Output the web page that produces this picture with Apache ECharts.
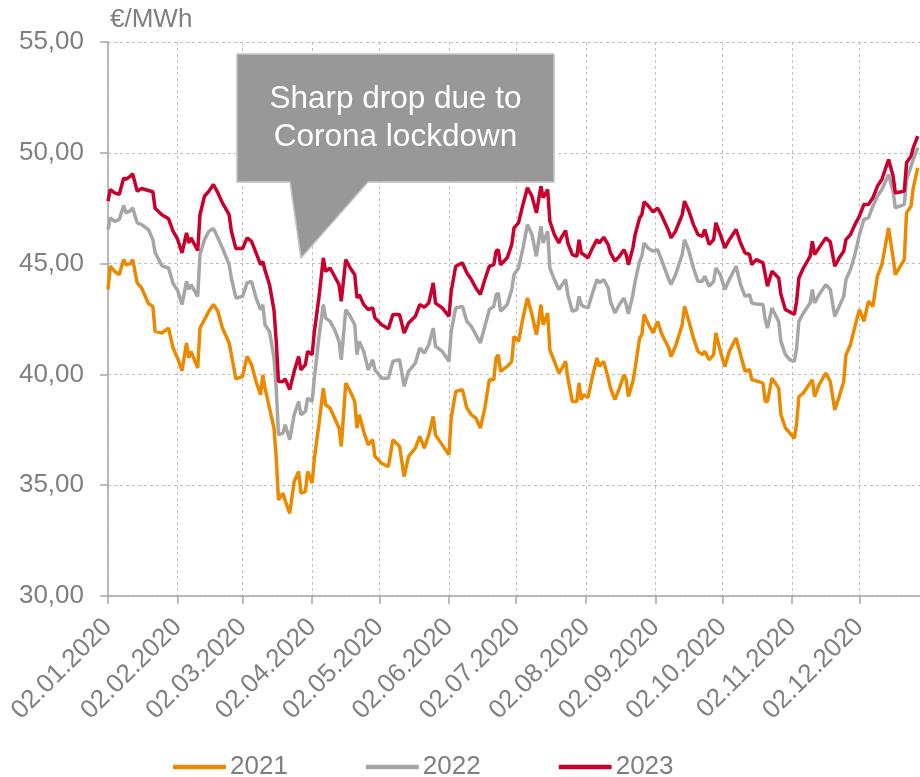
<!DOCTYPE html>
<html>
<head>
<meta charset="utf-8">
<script src="https://cdn.jsdelivr.net/npm/echarts@6/dist/echarts.min.js"></script>
<style>html,body{margin:0;padding:0;background:#fff;}#chart{width:920px;height:777px;}</style>
</head>
<body>
<div id="chart"></div>
<script>
// ---- data ----
const YEAR = '2020';
const firstDay = '2020-01-02';
const lastDay = '2020-12-29';
const seriesNames = ['2021', '2022', '2023'];
const yTicks = [30, 35, 40, 45, 50, 55];
const unitLabel = '€/MWh';
const calloutText = 'Sharp drop due to\nCorona lockdown';

const sampleDates = [
 '02.01','03.01','05.01','07.01','09.01','10.01','12.01','13.01','15.01','17.01',
 '20.01','22.01','23.01','26.01','29.01','31.01','02.02','04.02','06.02','07.02',
 '08.02','11.02','12.02','14.02','16.02','18.02','20.02','22.02','25.02','26.02',
 '28.02','02.03','04.03','06.03','08.03','10.03','11.03','12.03','14.03','16.03',
 '17.03','18.03','20.03','21.03','23.03','25.03','27.03','28.03','30.03','31.03',
 '02.04','03.04','05.04','07.04','08.04','10.04','12.04','14.04','15.04','17.04',
 '19.04','21.04','22.04','23.04','25.04','27.04','29.04','30.04','03.05','06.05',
 '08.05','11.05','13.05','15.05','18.05','20.05','22.05','24.05','26.05','27.05',
 '30.05','02.06','03.06','05.06','08.06','10.06','12.06','14.06','16.06','18.06',
 '20.06','22.06','23.06','24.06','25.06','28.06','30.06','01.07','03.07','05.07',
 '07.07','09.07','11.07','12.07','13.07','14.07','16.07','17.07','19.07','21.07',
 '22.07','24.07','25.07','27.07','29.07','30.07','31.07','01.08','03.08','05.08',
 '07.08','08.08','10.08','12.08','13.08','15.08','17.08','19.08','20.08','21.08',
 '23.08','24.08','26.08','27.08','28.08','30.08','01.09','03.09','05.09','08.09',
 '09.09','11.09','14.09','15.09','17.09','19.09','21.09','23.09','24.09','26.09',
 '28.09','29.09','01.10','03.10','05.10','08.10','10.10','12.10','14.10','15.10',
 '17.10','20.10','21.10','22.10','24.10','27.10','28.10','30.10','01.11','03.11',
 '04.11','05.11','07.11','10.11','11.11','12.11','14.11','17.11','19.11','21.11',
 '23.11','25.11','26.11','28.11','30.11','02.12','04.12','06.12','08.12','10.12',
 '12.12','15.12','17.12','18.12','22.12','23.12','25.12','26.12','28.12'
];

const values2023 = [
 47.82,48.34,48.19,48.12,48.87,48.8,48.95,49.05,48.27,48.39,
 48.3,48.24,47.5,47.2,47.02,46.46,46.1,45.48,46.39,45.93,
 46.16,45.59,47.2,48.04,48.27,48.57,48.19,47.74,47.21,46.46,
 45.68,45.68,46.16,46.0,45.48,44.95,45.1,44.7,44.05,42.9,
 41.5,39.68,39.68,39.8,39.31,40.14,40.81,40.21,40.44,41.04,
 40.89,41.94,43.45,45.26,44.65,44.8,44.43,44.05,43.3,45.18,
 44.8,44.5,43.45,43.6,43.15,42.92,43.0,42.55,42.24,42.06,
 42.7,42.7,41.87,42.32,42.62,43.15,43.03,43.22,44.13,43.22,
 43.0,42.62,43.75,44.88,45.03,44.58,44.28,43.9,43.6,44.28,
 44.88,44.95,45.56,45.63,44.95,45.26,45.86,46.61,46.84,47.67,
 48.42,48.04,47.29,47.89,48.49,47.97,48.34,46.91,46.31,45.93,
 46.16,46.49,45.93,45.41,45.33,46.08,45.48,45.41,45.26,45.71,
 46.08,45.93,46.19,45.86,45.48,45.11,45.33,45.63,45.41,44.95,
 45.71,46.31,47.06,47.21,47.79,47.59,47.33,47.51,47.14,46.46,
 46.16,46.46,47.21,47.82,47.36,46.76,46.31,46.23,46.54,45.86,
 46.08,46.84,46.31,45.71,46.08,46.54,45.93,45.48,45.41,44.95,
 45.18,45.03,44.5,43.98,44.65,44.35,43.6,42.92,42.82,42.7,
 43.3,44.35,44.8,45.33,46.01,45.41,45.71,46.16,45.98,44.88,
 45.26,45.56,46.08,46.31,46.76,47.14,47.67,47.67,47.97,48.49,
 48.8,49.7,48.95,48.19,48.27,49.55,49.85,50.23,50.75
];

const values2022 = [
 46.54,47.06,46.91,46.99,47.62,47.29,47.39,47.51,46.84,46.76,
 46.54,46.08,45.5,44.9,44.8,44.1,43.8,43.15,44.2,43.83,
 44.05,43.52,45.41,46.08,46.46,46.58,46.16,45.71,44.95,44.35,
 43.45,43.52,44.13,44.2,43.45,42.92,43.15,42.24,41.94,40.74,
 39.38,37.27,37.35,37.73,37.05,38.18,38.78,38.18,38.33,38.93,
 38.78,39.83,41.64,43.15,42.55,42.39,42.02,41.49,40.66,42.92,
 42.62,42.24,40.89,41.49,41.04,40.21,40.66,40.21,39.83,39.83,
 40.59,40.66,39.46,40.14,40.51,41.19,40.96,41.34,42.09,41.27,
 41.04,40.59,41.94,43.0,43.07,42.39,42.17,41.79,41.42,42.17,
 42.92,43.07,43.6,43.67,42.85,43.15,43.83,44.5,44.8,45.71,
 46.76,46.31,45.33,46.01,46.69,45.93,46.46,44.8,44.28,43.83,
 43.98,44.28,43.6,42.85,42.92,43.52,43.15,43.07,43.0,43.67,
 44.28,44.13,44.28,43.9,43.3,42.77,43.15,43.45,43.15,42.73,
 43.6,44.2,45.11,45.33,45.93,45.68,45.56,45.63,45.11,44.28,
 44.05,44.5,45.41,46.08,45.56,44.8,44.2,44.2,44.43,43.98,
 44.2,44.8,44.5,43.83,44.28,44.88,44.05,43.52,43.6,43.22,
 43.18,43.15,42.47,42.09,43.0,42.39,41.49,40.89,40.66,40.59,
 41.19,42.39,42.77,43.22,43.83,43.22,43.6,44.05,43.83,42.62,
 43.07,43.52,44.28,44.73,45.41,46.31,46.99,47.06,47.59,48.04,
 48.34,49.02,48.27,47.51,47.67,48.8,49.4,49.7,50.23
];

const values2021 = [
 43.83,44.88,44.65,44.5,45.18,44.95,45.0,45.18,44.13,43.9,
 43.2,43.07,41.94,41.87,42.09,41.19,40.74,40.17,41.42,40.74,
 41.04,40.29,42.09,42.47,42.85,43.15,42.85,42.09,41.42,40.89,
 39.8,39.91,40.81,40.44,39.68,39.08,39.98,39.38,38.48,37.58,
 36.22,34.34,34.64,34.3,33.73,35.17,35.62,34.64,34.71,35.62,
 35.09,36.22,37.73,39.38,38.63,38.48,38.03,37.58,36.75,39.61,
 39.23,38.78,37.58,38.18,37.42,36.82,37.05,36.3,35.99,35.84,
 37.05,36.75,35.39,36.3,36.67,37.2,36.67,37.27,38.1,37.27,
 36.82,36.37,38.03,39.23,39.31,38.48,38.18,38.03,37.58,38.48,
 39.76,39.76,40.74,40.89,40.14,40.36,40.59,41.72,41.49,42.55,
 43.45,42.7,41.79,42.39,43.15,42.24,42.77,41.11,40.59,40.06,
 40.21,40.59,39.83,38.78,38.78,39.61,38.86,39.08,38.96,39.91,
 40.74,40.36,40.59,39.83,39.38,38.86,39.38,39.98,39.76,39.0,
 39.68,40.29,41.64,41.79,42.7,42.24,41.87,42.39,41.79,41.19,
 40.81,41.27,42.24,43.07,42.39,41.64,41.04,40.89,41.04,40.66,
 40.89,41.87,41.04,40.36,41.04,41.64,40.89,40.14,40.21,39.76,
 39.71,39.61,38.78,38.78,39.83,39.38,38.18,37.58,37.35,37.12,
 37.8,39.0,39.16,39.61,39.76,39.0,39.53,40.06,39.68,38.4,
 39.0,39.68,40.89,41.34,42.17,42.92,42.39,43.3,43.07,44.43,
 44.95,46.61,45.26,44.5,45.18,47.29,47.59,48.42,49.32
];

const colors = ['#EB8A00', '#A6A6A6', '#C8002D'];

// ---- build calendar-day categories ----
function fmt(d) {
  const dd = String(d.getUTCDate()).padStart(2, '0');
  const mm = String(d.getUTCMonth() + 1).padStart(2, '0');
  return dd + '.' + mm + '.' + d.getUTCFullYear();
}
const categories = [];
for (let t = Date.parse(firstDay + 'T00:00:00Z'); t <= Date.parse(lastDay + 'T00:00:00Z'); t += 86400000) {
  categories.push(fmt(new Date(t)));
}
const catIndex = {};
categories.forEach((c, i) => { catIndex[c] = i; });
function expand(vals) {
  const arr = new Array(categories.length).fill(null);
  sampleDates.forEach((d, i) => { arr[catIndex[d + '.' + YEAR]] = vals[i]; });
  return arr;
}
const isTick = (idx, val) => val.slice(0, 3) === '02.';

const FONT = '"Liberation Sans", Arial, Helvetica, sans-serif';
const TXT = '#7F7F7F';

const chart = echarts.init(document.getElementById('chart'), null, { renderer: 'canvas' });
chart.setOption({
  animation: false,
  backgroundColor: '#ffffff',
  textStyle: { fontFamily: FONT },
  grid: { left: 108, right: 0, top: 42, bottom: 181, containLabel: false },
  legend: {
    left: 168, top: 749,
    icon: 'roundRect',
    itemWidth: 53, itemHeight: 4.5, itemGap: 78,
    textStyle: { fontSize: 26, color: TXT, fontFamily: FONT, padding: [0, 0, 0, -1] },
    data: seriesNames
  },
  xAxis: {
    type: 'category',
    boundaryGap: false,
    data: categories,
    axisLine: { lineStyle: { color: '#A6A6A6', width: 1.5 } },
    axisTick: { show: true, interval: isTick, length: 8, lineStyle: { color: '#A6A6A6', width: 1.5 } },
    axisLabel: {
      interval: isTick, rotate: 45, margin: 27,
      fontSize: 26, color: TXT, fontFamily: FONT
    },
    splitLine: { show: true, interval: isTick, lineStyle: { color: '#BFBFBF', type: [3, 3], width: 1 } }
  },
  yAxis: {
    type: 'value',
    min: yTicks[0], max: yTicks[yTicks.length - 1], interval: 5,
    axisLine: { show: true, lineStyle: { color: '#A6A6A6', width: 1.5 } },
    axisTick: { show: true, length: 8, lineStyle: { color: '#A6A6A6', width: 1.5 } },
    axisLabel: {
      margin: 24, fontSize: 26, color: TXT, fontFamily: FONT,
      formatter: v => v.toFixed(2).replace('.', ',')
    },
    splitLine: { show: true, lineStyle: { color: '#BFBFBF', type: [3, 3], width: 1 } }
  },
  series: [
    { name: seriesNames[0], type: 'line', data: expand(values2021), connectNulls: true, symbol: 'none', lineStyle: { width: 3.5, color: colors[0] }, itemStyle: { color: colors[0] }, z: 3 },
    { name: seriesNames[1], type: 'line', data: expand(values2022), connectNulls: true, symbol: 'none', lineStyle: { width: 3.5, color: colors[1] }, itemStyle: { color: colors[1] }, z: 4 },
    { name: seriesNames[2], type: 'line', data: expand(values2023), connectNulls: true, symbol: 'none', lineStyle: { width: 3.5, color: colors[2] }, itemStyle: { color: colors[2] }, z: 5 }
  ],
  graphic: [
    {
      type: 'text', left: 110, top: 7, z: 10,
      style: { text: unitLabel, fontSize: 26, fill: TXT, fontFamily: FONT }
    },
    {
      type: 'polygon', z: 20,
      shape: { points: [[237, 54], [554, 54], [554, 182], [368, 182], [301, 258], [290, 182], [237, 182]] },
      style: { fill: '#979897', stroke: '#C4C4C4', lineWidth: 1.5 }
    },
    {
      type: 'text', z: 21, x: 395.5, y: 118,
      style: {
        text: calloutText, fontSize: 31.5, lineHeight: 38, fill: '#FFFFFF', fontFamily: FONT,
        align: 'center', verticalAlign: 'middle'
      }
    }
  ]
});
</script>
</body>
</html>
